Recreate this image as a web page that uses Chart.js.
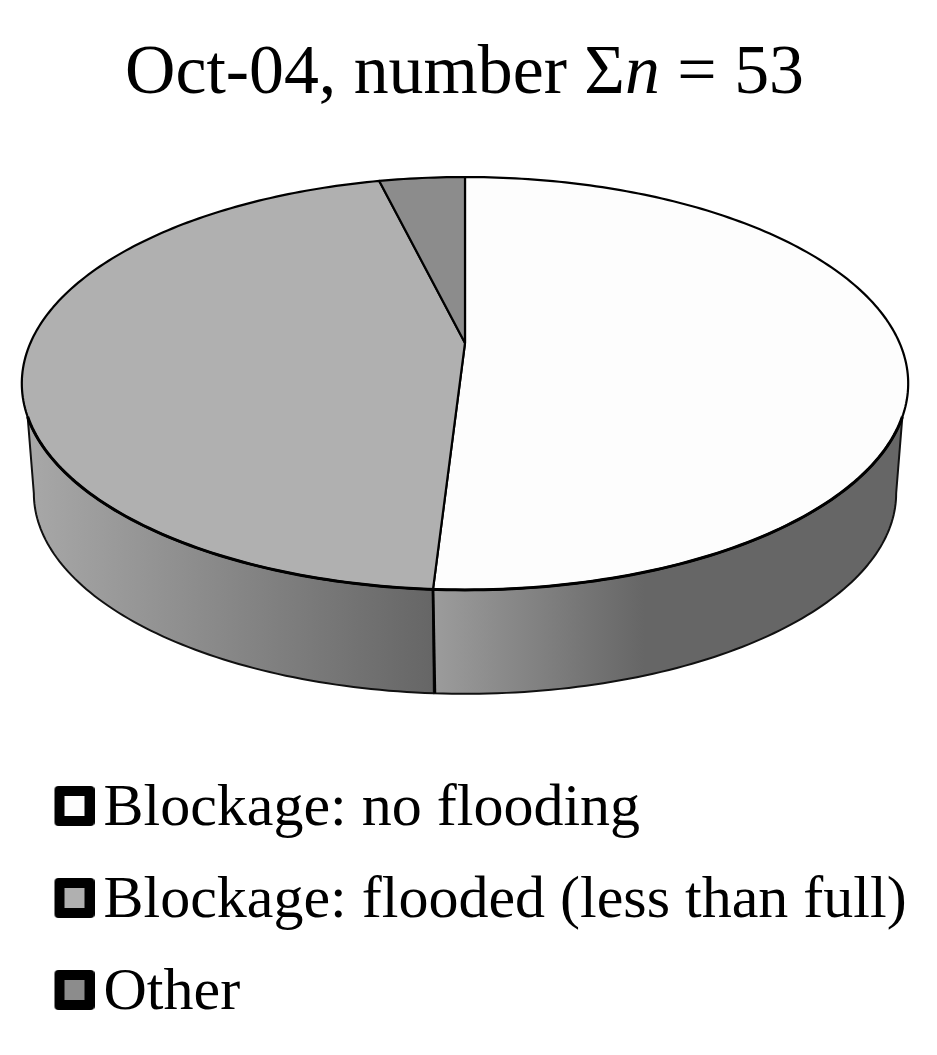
<!DOCTYPE html>
<html>
<head>
<meta charset="utf-8">
<style>
body { margin: 0; background: #fff; }
canvas { display: block; filter: blur(0.5px); }
</style>
<script src="https://cdn.jsdelivr.net/npm/chart.js@4"></script>
</head>
<body>
<canvas id="pieChart" width="937" height="1055"></canvas>
<script>
var categories = ['Blockage: no flooding', 'Blockage: flooded (less than full)', 'Other'];
var counts = [27, 24, 2];
var sliceColors = ['#fdfdfd', '#b0b0b0', '#8c8c8c'];
var titleParts = ['Oct-04, number Σ', 'n', ' = 53'];

// tilted disc: top face and bottom face of the 3D pie
var topFace = { cx: 465, apexY: 343, a: 434.6, b: 198.5, w: 0.196 };
var bottomFace = { cx: 465, apexY: 454, a: 422.8, b: 192.8, w: 0.196 };
var wallRange = { top: [110.3, 249.7], bottom: [101.3, 258.7] };
var wallStops = [
    [[0, '#9c9c9c'], [0.45, '#666666'], [1, '#666666']],
    [[0, '#a8a8a8'], [1, '#666666']],
    [[0, '#888888'], [1, '#666666']]
];

// degrees clockwise from the top of the pie -> canvas point
function project(face, deg) {
    var t = deg * Math.PI / 180;
    var u = Math.sin(t), v = Math.cos(t);
    var d = 1 + face.w * v;
    return { x: face.cx + face.a * u / d, y: face.apexY - face.b * v / d };
}

function traceCurve(ctx, face, from, to) {
    var steps = Math.max(2, Math.ceil(Math.abs(to - from)));
    for (var i = 0; i <= steps; i++) {
        var p = project(face, from + (to - from) * i / steps);
        ctx.lineTo(p.x, p.y);
    }
}

function toDeg(rad) {
    return (rad + Math.PI / 2) * 180 / Math.PI;
}

var pie3d = {
    id: 'pie3d',
    beforeDatasetsDraw: function (chart) {
        var ctx = chart.ctx;
        var arcs = chart.getDatasetMeta(0).data;
        ctx.save();
        ctx.lineJoin = 'round';

        // side wall
        arcs.forEach(function (arc, idx) {
            var s = toDeg(arc.startAngle), e = toDeg(arc.endAngle);
            var t0 = Math.max(s, wallRange.top[0]), t1 = Math.min(e, wallRange.top[1]);
            var b0 = Math.max(s, wallRange.bottom[0]), b1 = Math.min(e, wallRange.bottom[1]);
            if (t0 >= t1) return;
            var xs = [project(topFace, t0).x, project(topFace, t1).x].sort(function (p, q) { return p - q; });
            var grad = ctx.createLinearGradient(xs[0], 0, xs[1], 0);
            wallStops[idx].forEach(function (st) { grad.addColorStop(st[0], st[1]); });
            ctx.beginPath();
            traceCurve(ctx, topFace, t0, t1);
            traceCurve(ctx, bottomFace, b1, b0);
            ctx.closePath();
            ctx.fillStyle = grad;
            ctx.fill();
            ctx.strokeStyle = '#111';
            ctx.lineWidth = 2;
            ctx.stroke();
        });

        // divider on the wall and heavier front rim
        arcs.forEach(function (arc) {
            var e = toDeg(arc.endAngle);
            if (e > wallRange.top[0] && e < wallRange.top[1]) {
                var p = project(topFace, e), q = project(bottomFace, e);
                ctx.beginPath();
                ctx.moveTo(p.x, p.y);
                ctx.lineTo(q.x + 1, q.y);
                ctx.strokeStyle = '#000';
                ctx.lineWidth = 2.8;
                ctx.stroke();
            }
        });

        // top face
        arcs.forEach(function (arc, idx) {
            var s = toDeg(arc.startAngle), e = toDeg(arc.endAngle);
            ctx.beginPath();
            ctx.moveTo(topFace.cx, topFace.apexY);
            traceCurve(ctx, topFace, s, e);
            ctx.closePath();
            ctx.fillStyle = sliceColors[idx];
            ctx.fill();
            ctx.strokeStyle = '#000';
            ctx.lineWidth = 2.2;
            ctx.stroke();
        });
        ctx.beginPath();
        traceCurve(ctx, topFace, wallRange.top[0], wallRange.top[1]);
        ctx.strokeStyle = '#000';
        ctx.lineWidth = 3;
        ctx.stroke();
        ctx.restore();
        return false;
    },
    afterDraw: function (chart) {
        // title has an italic n so it is written in pieces
        var ctx = chart.ctx;
        var upright = '69.8px "Liberation Serif"', italic = 'italic 69.8px "Liberation Serif"';
        ctx.save();
        ctx.fillStyle = '#000';
        ctx.textBaseline = 'alphabetic';
        ctx.textAlign = 'left';
        var x = 125;
        titleParts.forEach(function (part, i) {
            ctx.font = i === 1 ? italic : upright;
            ctx.fillText(part, x, 93);
            x += ctx.measureText(part).width;
        });
        ctx.restore();
    }
};

// canvas is larger than the box so the box sits off its centre, nearer the text line
function legendBox(color) {
    var c = document.createElement('canvas');
    c.width = 44;
    c.height = 46;
    var g = c.getContext('2d');
    g.fillStyle = '#000';
    g.beginPath();
    g.roundRect(4, 0, 40, 40, 4);
    g.fill();
    g.fillStyle = color;
    g.fillRect(14, 10, 20, 20);
    return c;
}

var ctx = document.getElementById('pieChart').getContext('2d');

new Chart(ctx, {
    type: 'pie',
    plugins: [pie3d],
    data: {
        labels: categories,
        datasets: [{ data: counts, backgroundColor: sliceColors }]
    },
    options: {
        responsive: false,
        animation: false,
        layout: { padding: { left: 39.5, bottom: 22 } },
        plugins: {
            tooltip: { enabled: false },
            legend: {
                position: 'bottom',
                align: 'start',
                labels: {
                    color: '#000',
                    font: { family: '"Liberation Serif"', size: 60 },
                    padding: 32,
                    usePointStyle: true,
                    pointStyleWidth: 2,
                    generateLabels: function () {
                        return categories.map(function (name, i) {
                            return { text: name, pointStyle: legendBox(sliceColors[i]), fontColor: '#000', lineWidth: 0, index: i };
                        });
                    }
                }
            }
        }
    }
});
</script>
</body>
</html>
